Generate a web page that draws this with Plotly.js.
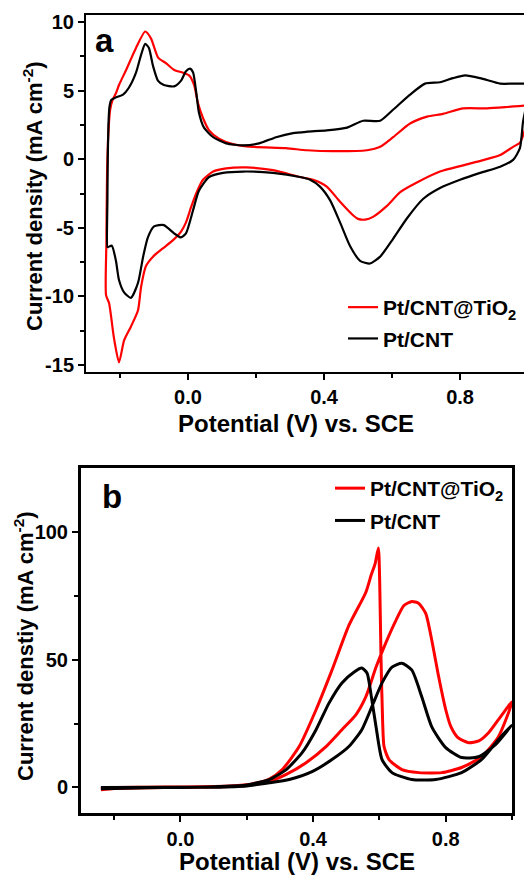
<!DOCTYPE html>
<html>
<head>
<meta charset="utf-8">
<script src="https://cdn.plot.ly/plotly-3.0.1.min.js"></script>
<style>html,body{margin:0;padding:0;background:#fff;}#chart{width:525px;height:875px;}</style>
</head>
<body>
<div id="chart"></div>
<script>
// ---- Panel a: cyclic voltammograms (closed loops) ----
const aRedX = [-0.241,-0.240,-0.238,-0.234,-0.229,-0.222,-0.212,-0.203,-0.182,-0.153,-0.126,-0.109,-0.088,-0.065,-0.041,-0.015,0.003,0.018,0.029,0.044,0.062,0.091,0.132,0.191,0.288,0.350,0.426,0.526,0.565,0.603,0.653,0.703,0.750,0.809,0.879,0.938,0.988,1.000,0.995,0.985,0.976,0.956,0.918,0.868,0.809,0.741,0.673,0.624,0.585,0.544,0.521,0.500,0.486,0.447,0.408,0.368,0.329,0.250,0.171,0.112,0.074,0.044,0.024,0.009,-0.006,-0.021,-0.044,-0.074,-0.103,-0.124,-0.138,-0.147,-0.168,-0.188,-0.203,-0.218,-0.232,-0.241];
const aRedY = [-9.9,-6.0,-1.0,2.0,3.6,4.3,4.8,5.4,6.5,8.1,9.3,8.8,7.4,7.0,6.5,6.3,6.1,5.4,4.1,3.0,2.1,1.5,1.1,0.9,0.8,0.65,0.58,0.65,0.9,1.6,2.6,3.1,3.3,3.7,3.7,3.8,3.9,3.95,2.6,1.7,1.2,0.9,0.3,-0.07,-0.45,-0.9,-1.7,-2.4,-3.4,-4.2,-4.4,-4.35,-4.1,-3.1,-2.0,-1.5,-1.3,-0.8,-0.6,-0.67,-0.9,-1.5,-2.5,-3.5,-4.6,-5.3,-5.9,-6.5,-7.1,-7.8,-9.3,-11.0,-12.2,-13.2,-14.8,-13.0,-10.5,-9.9];

const aBlkX = [-0.237,-0.237,-0.236,-0.234,-0.231,-0.226,-0.212,-0.191,-0.174,-0.153,-0.138,-0.126,-0.115,-0.103,-0.088,-0.071,-0.041,-0.021,-0.006,0.006,0.015,0.024,0.032,0.047,0.074,0.112,0.162,0.209,0.259,0.309,0.350,0.408,0.468,0.515,0.565,0.603,0.653,0.697,0.741,0.779,0.815,0.859,0.918,0.956,0.988,1.000,0.995,0.985,0.976,0.956,0.918,0.859,0.800,0.741,0.691,0.644,0.603,0.565,0.535,0.506,0.476,0.447,0.418,0.388,0.359,0.329,0.250,0.162,0.103,0.062,0.032,0.015,-0.006,-0.021,-0.041,-0.071,-0.100,-0.118,-0.132,-0.147,-0.168,-0.188,-0.203,-0.212,-0.224,-0.235,-0.237];
const aBlkY = [-6.4,-3.0,0.0,2.5,3.8,4.3,4.5,4.7,5.2,6.3,7.6,8.4,8.1,6.8,5.7,5.4,5.3,5.7,6.4,6.6,6.3,4.9,3.4,2.3,1.6,1.15,1.0,1.15,1.6,1.9,2.0,2.1,2.3,2.8,2.8,3.6,4.7,5.5,5.6,5.9,6.1,5.9,5.5,5.5,5.5,5.5,4.0,2.7,0.8,-0.05,-0.55,-1.0,-1.5,-2.1,-2.9,-4.3,-5.8,-7.1,-7.6,-7.4,-6.3,-4.6,-3.0,-2.0,-1.5,-1.3,-1.0,-0.9,-1.0,-1.3,-2.3,-3.7,-5.4,-5.7,-5.4,-4.8,-4.9,-5.7,-7.1,-9.0,-10.1,-9.7,-8.8,-7.4,-6.3,-6.4,-6.4];

// ---- Panel b: methanol oxidation CVs (closed loops) ----
const bRedX = [-0.240,-0.200,-0.100,0.000,0.100,0.180,0.230,0.268,0.319,0.379,0.439,0.487,0.529,0.559,0.590,0.620,0.650,0.674,0.698,0.719,0.740,0.758,0.779,0.800,0.815,0.837,0.869,0.900,0.930,0.959,1.000,0.959,0.908,0.848,0.788,0.719,0.668,0.629,0.614,0.610,0.605,0.601,0.597,0.587,0.575,0.559,0.508,0.457,0.409,0.358,0.307,0.268,0.220,0.150,0.000,-0.100,-0.200,-0.240];
const bRedY = [-0.9,-0.4,-0.1,0.0,0.2,0.6,1.3,2.3,5.1,9.7,16.0,22.6,28.4,35.4,47.1,56.8,65.4,71.2,72.8,72.0,68.0,57.6,43.2,30.5,24.0,19.5,17.5,18.2,21.5,26.5,33.5,19.8,12.0,7.8,5.8,5.8,7.0,10.9,16.0,25.0,50.0,80.0,93.7,87.5,83.0,76.3,63.4,45.9,30.4,16.0,7.0,3.3,1.5,0.6,0.2,0.1,0.0,-0.5];

const bBlkX = [-0.240,-0.100,0.000,0.100,0.200,0.268,0.328,0.397,0.457,0.508,0.547,0.577,0.608,0.638,0.668,0.698,0.728,0.758,0.800,0.848,0.899,0.950,1.000,0.959,0.908,0.848,0.770,0.698,0.638,0.608,0.590,0.574,0.563,0.547,0.523,0.487,0.448,0.409,0.367,0.319,0.268,0.200,0.100,0.000,-0.240];
const bBlkY = [-0.5,-0.1,0.0,0.1,0.6,1.8,3.1,6.2,10.9,16.0,22.6,31.5,40.9,47.1,48.6,45.9,35.4,23.7,15.6,11.7,12.0,16.7,24.5,18.7,10.9,5.8,3.1,3.1,5.8,10.9,23.7,37.0,44.7,46.7,45.1,40.9,33.0,22.6,13.6,7.0,3.1,1.0,0.3,0.1,0.0];

// tick labels
const aYTickVals = [-15,-10,-5,0,5,10];
const aYTickText = ['-15','-10','-5','0','5','10'];
const bYTickVals = [0,50,100];
const bYTickText = ['0','50','100'];
const xTickVals = [0.0,0.4,0.8];
const xTickText = ['0.0','0.4','0.8'];

const nameRed = 'Pt/CNT@TiO<sub>2</sub>';
const nameBlk = 'Pt/CNT';
const xTitle = 'Potential (V) vs. SCE';
const aYTitle = 'Current density (mA cm<sup>-2</sup>)';
const bYTitle = 'Current denstiy (mA cm<sup>-2</sup>)';

const RED = '#ff0000', BLK = '#000000';
const FONT = 'Liberation Sans, Arial, Helvetica, sans-serif';
const W = 525, H = 875;
const px = v => v / W, py = v => 1 - v / H;

const traces = [
  {x: aRedX, y: aRedY, xaxis: 'x', yaxis: 'y', name: nameRed, mode: 'lines', line: {color: RED, width: 2.2, shape: 'spline', smoothing: 0.6}, legend: 'legend', legendgroup: 'a1'},
  {x: aBlkX, y: aBlkY, xaxis: 'x', yaxis: 'y', name: nameBlk, mode: 'lines', line: {color: BLK, width: 2.2, shape: 'spline', smoothing: 0.6}, legend: 'legend', legendgroup: 'a2'},
  {x: bRedX, y: bRedY, xaxis: 'x2', yaxis: 'y2', name: nameRed, mode: 'lines', line: {color: RED, width: 3, shape: 'spline', smoothing: 0.6}, legend: 'legend2', legendgroup: 'b1'},
  {x: bBlkX, y: bBlkY, xaxis: 'x2', yaxis: 'y2', name: nameBlk, mode: 'lines', line: {color: BLK, width: 3, shape: 'spline', smoothing: 0.6}, legend: 'legend2', legendgroup: 'b2'}
];

const tickFont = {family: FONT, size: 20, color: '#000', weight: 'bold'};
const xTitleFont = {family: FONT, size: 24, color: '#000', weight: 'bold'};
const yTitleFont = {family: FONT, size: 22, color: '#000', weight: 'bold'};
const legFont = {family: FONT, size: 21, color: '#000', weight: 'bold'};

function xAxis(domain, range, mirror, anchor, lw) {
  return {
    domain: domain, range: range, anchor: anchor,
    showline: true, linecolor: '#000', linewidth: lw, mirror: mirror,
    showgrid: false, zeroline: false,
    ticks: 'outside', ticklen: 6, tickwidth: 2, tickcolor: '#000',
    tickvals: xTickVals, ticktext: xTickText, tickfont: tickFont,
    minor: {tickvals: [-0.2, 0.2, 0.6, 1.0], ticks: 'outside', ticklen: 4, tickwidth: 2, tickcolor: '#000', showgrid: false},
    automargin: false, fixedrange: true
  };
}

const layout = {
  width: W, height: H,
  margin: {l: 0, r: 0, t: 0, b: 0},
  paper_bgcolor: '#fff', plot_bgcolor: '#fff',
  showlegend: true,
  xaxis: xAxis([px(86), px(524)], [-0.3, 0.988], true, 'y', 2),
  yaxis: {
    domain: [py(372), py(15)], range: [-15.5, 10.5], anchor: 'x',
    showline: true, linecolor: '#000', linewidth: 2, mirror: false,
    showgrid: false, zeroline: false,
    ticks: 'outside', ticklen: 6, tickwidth: 2, tickcolor: '#000',
    tickvals: aYTickVals, ticktext: aYTickText, tickfont: tickFont,
    minor: {tickvals: [-12.5, -7.5, -2.5, 2.5, 7.5], ticks: 'outside', ticklen: 4, tickwidth: 2, tickcolor: '#000', showgrid: false},
    automargin: false, fixedrange: true
  },
  xaxis2: xAxis([px(81), px(512)], [-0.3, 1.0], true, 'y2', 3),
  yaxis2: {
    domain: [py(813), py(468)], range: [-10, 125], anchor: 'x2',
    showline: true, linecolor: '#000', linewidth: 3, mirror: true,
    showgrid: false, zeroline: false,
    ticks: 'outside', ticklen: 6, tickwidth: 2, tickcolor: '#000',
    tickvals: bYTickVals, ticktext: bYTickText, tickfont: tickFont,
    minor: {tickvals: [25, 75], ticks: 'outside', ticklen: 4, tickwidth: 2, tickcolor: '#000', showgrid: false},
    automargin: false, fixedrange: true
  },
  legend: {
    x: px(343), y: py(287), xanchor: 'left', yanchor: 'top',
    bgcolor: 'rgba(0,0,0,0)', borderwidth: 0,
    font: legFont,
    traceorder: 'grouped', tracegroupgap: 1, itemwidth: 30
  },
  legend2: {
    x: px(330), y: py(468), xanchor: 'left', yanchor: 'top',
    bgcolor: 'rgba(0,0,0,0)', borderwidth: 0,
    font: legFont,
    traceorder: 'grouped', tracegroupgap: 2, itemwidth: 30
  },
  annotations: [
    {text: 'a', xref: 'paper', yref: 'paper', x: px(93), y: py(41), xanchor: 'left', yanchor: 'middle', showarrow: false, font: {family: FONT, size: 33, color: '#000', weight: 'bold'}},
    {text: 'b', xref: 'paper', yref: 'paper', x: px(100), y: py(497), xanchor: 'left', yanchor: 'middle', showarrow: false, font: {family: FONT, size: 33, color: '#000', weight: 'bold'}},
    {text: xTitle, xref: 'paper', yref: 'paper', x: px(296), y: py(423), xanchor: 'center', yanchor: 'middle', showarrow: false, font: xTitleFont},
    {text: xTitle, xref: 'paper', yref: 'paper', x: px(297), y: py(861), xanchor: 'center', yanchor: 'middle', showarrow: false, font: xTitleFont},
    {text: aYTitle, xref: 'paper', yref: 'paper', x: px(33), y: py(196), xanchor: 'center', yanchor: 'middle', textangle: -90, showarrow: false, font: yTitleFont},
    {text: bYTitle, xref: 'paper', yref: 'paper', x: px(24), y: py(646), xanchor: 'center', yanchor: 'middle', textangle: -90, showarrow: false, font: yTitleFont}
  ]
};

Plotly.newPlot('chart', traces, layout, {displayModeBar: false, staticPlot: true});
</script>
</body>
</html>
